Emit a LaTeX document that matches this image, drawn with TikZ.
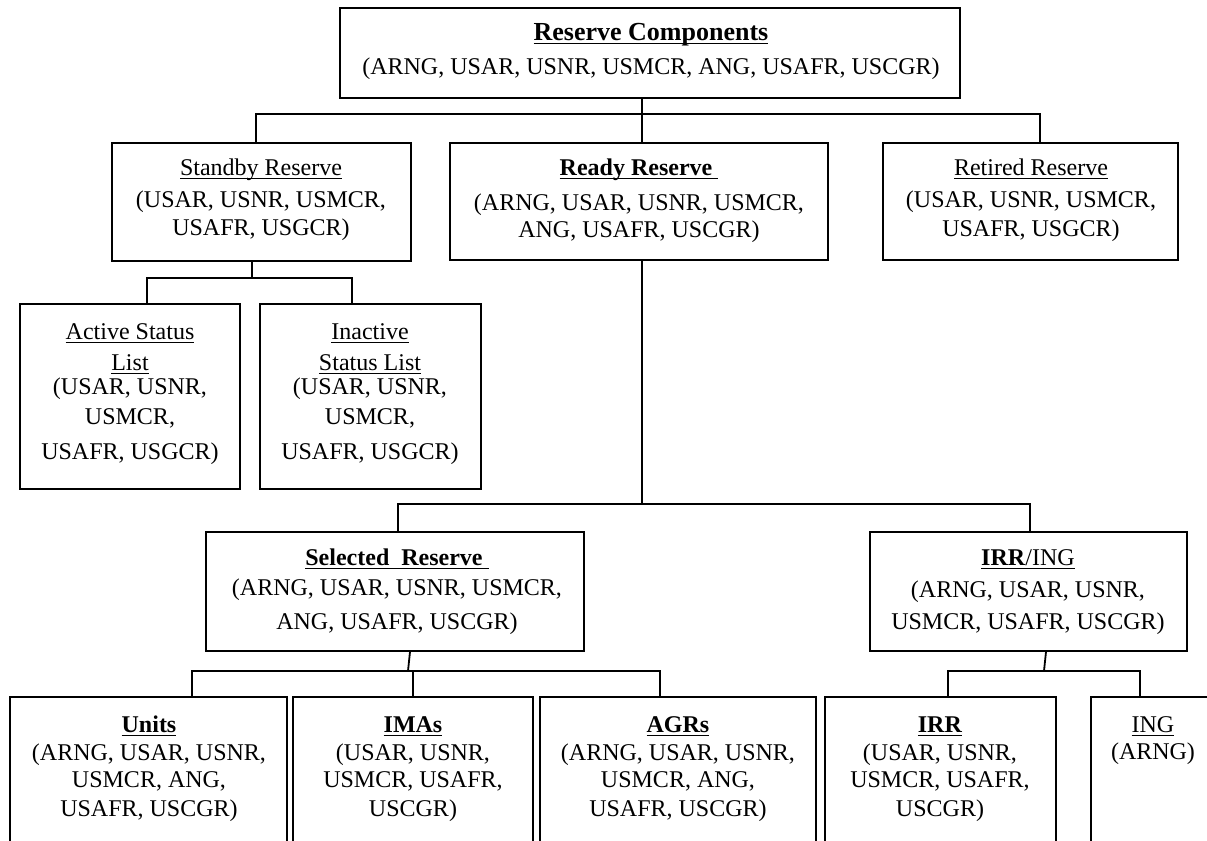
\documentclass[tikz,border=0pt]{standalone}
\usepackage{fontspec}
\setmainfont{Liberation Serif}
\usetikzlibrary{fit,calc}
\newcommand\ulx[1]{\setbox0=\hbox{#1}\rlap{\rule[-1.5pt]{\wd0}{0.6pt}}\box0}
\begin{document}
\begin{tikzpicture}[x=0.5pt,y=-0.5pt,
  box/.style={draw, line width=0.9pt, inner sep=0pt},
  ln/.style={inner sep=0pt, text height=7.9pt, text depth=0pt, font=\fontsize{12}{14}\selectfont},
  con/.style={line width=0.9pt}]
\clip (0,0) rectangle (1207,841);
\fill[white] (0,0) rectangle (1207,841);
% boxes
\node[box, fit={(340,8) (960,98)}] (rc) {};
\node[box, fit={(112,143) (411,261)}] (sb) {};
\node[box, fit={(450,143) (828,260)}] (rr) {};
\node[box, fit={(883,143) (1178,260)}] (rt) {};
\node[box, fit={(20,304) (240,489)}] (as) {};
\node[box, fit={(260,304) (481,489)}] (is) {};
\node[box, fit={(206,532) (584,651)}] (sr) {};
\node[box, fit={(870,532) (1187,651)}] (ii) {};
\node[box, fit={(10,697) (287,900)}] (un) {};
\node[box, fit={(293,697) (533,900)}] (im) {};
\node[box, fit={(540,697) (816,900)}] (ag) {};
\node[box, fit={(825,697) (1056,900)}] (ir) {};
\node[box, fit={(1091,697) (1230,900)}] (ng) {};
% bus coordinates
\coordinate (b1L) at (256,114); \coordinate (b1M) at (642,114); \coordinate (b1R) at (1040,114);
\coordinate (b2L) at (147,278); \coordinate (b2M) at (252,278); \coordinate (b2R) at (352,278);
\coordinate (b3L) at (398,504); \coordinate (b3M) at (642,504); \coordinate (b3R) at (1030,504);
\coordinate (s4) at (410,0);
\coordinate (b4L) at (192,671); \coordinate (b4M) at (408,671); \coordinate (b4R) at (660,671);
\coordinate (s5) at (1046,0);
\coordinate (b5L) at (948,671); \coordinate (b5M) at (1044,671); \coordinate (b5R) at (1140,671);
% connectors
\draw[con] (rc.south -| b1M) -- (b1M);
\draw[con] (sb.north -| b1L) -- (b1L) -- (b1R) -- (rt.north -| b1R);
\draw[con] (b1M) -- (rr.north -| b1M);
\draw[con] (sb.south -| b2M) -- (b2M);
\draw[con] (as.north -| b2L) -- (b2L) -- (b2R) -- (is.north -| b2R);
\draw[con] (rr.south -| b3M) -- (b3M);
\draw[con] (sr.north -| b3L) -- (b3L) -- (b3R) -- (ii.north -| b3R);
\draw[con] (sr.south -| s4) -- (b4M);
\draw[con] (un.north -| b4L) -- (b4L) -- (b4R) -- (ag.north -| b4R);
\draw[con] (im.north) -- (im.north |- b4M);
\draw[con] (ii.south -| s5) -- (b5M);
\draw[con] (ir.north -| b5L) -- (b5L) -- (b5R) -- (ng.north -| b5R);
% texts
\node[ln, font=\fontsize{13}{15}\selectfont] (rc1) at (651,33) {\ulx{\textbf{Reserve Components}}};
\node[ln] (rc2) at (651,67) {(ARNG, USAR, USNR, USMCR, ANG, USAFR, USCGR)};
\node[ln] (sb1) at (261,168) {\ulx{Standby Reserve}};
\node[ln] (sb2) at (261,200) {(USAR, USNR, USMCR,};
\node[ln] (sb3) at (261,228) {USAFR, USGCR)};
\node[ln] (rr1) at (639,168) {\ulx{\textbf{Ready Reserve}\ }};
\node[ln] (rr2) at (639,203) {(ARNG, USAR, USNR, USMCR,};
\node[ln] (rr3) at (639,230) {ANG, USAFR, USCGR)};
\node[ln] (rt1) at (1031,168) {\ulx{Retired Reserve}};
\node[ln] (rt2) at (1031,200) {(USAR, USNR, USMCR,};
\node[ln] (rt3) at (1031,229) {USAFR, USGCR)};
\node[ln] (as1) at (130,332) {\ulx{Active Status}};
\node[ln] (as2) at (130,363) {\ulx{List}};
\node[ln] (as3) at (130,387) {(USAR, USNR,};
\node[ln] (as4) at (130,417) {USMCR,};
\node[ln] (as5) at (130,452) {USAFR, USGCR)};
\node[ln] (is1) at (370,332) {\ulx{Inactive}};
\node[ln] (is2) at (370,363) {\ulx{Status List}};
\node[ln] (is3) at (370,387) {(USAR, USNR,};
\node[ln] (is4) at (370,417) {USMCR,};
\node[ln] (is5) at (370,452) {USAFR, USGCR)};
\node[ln] (sr1) at (397,558) {\ulx{\textbf{Selected\ \ Reserve}\ }};
\node[ln] (sr2) at (397,588) {(ARNG, USAR, USNR, USMCR,};
\node[ln] (sr3) at (397,622) {ANG, USAFR, USCGR)};
\node[ln] (ii1) at (1028,558) {\ulx{\textbf{IRR}/ING}};
\node[ln] (ii2) at (1028,590) {(ARNG, USAR, USNR,};
\node[ln] (ii3) at (1028,622) {USMCR, USAFR, USCGR)};
\node[ln] (un1) at (149,725) {\ulx{\textbf{Units}}};
\node[ln] (un2) at (149,753) {(ARNG, USAR, USNR,};
\node[ln] (un3) at (149,780) {USMCR, ANG,};
\node[ln] (un4) at (149,809) {USAFR, USCGR)};
\node[ln] (im1) at (413,725) {\ulx{\textbf{IMAs}}};
\node[ln] (im2) at (413,753) {(USAR, USNR,};
\node[ln] (im3) at (413,780) {USMCR, USAFR,};
\node[ln] (im4) at (413,809) {USCGR)};
\node[ln] (ag1) at (678,725) {\ulx{\textbf{AGRs}}};
\node[ln] (ag2) at (678,753) {(ARNG, USAR, USNR,};
\node[ln] (ag3) at (678,780) {USMCR, ANG,};
\node[ln] (ag4) at (678,809) {USAFR, USCGR)};
\node[ln] (ir1) at (940,725) {\ulx{\textbf{IRR}}};
\node[ln] (ir2) at (940,753) {(USAR, USNR,};
\node[ln] (ir3) at (940,780) {USMCR, USAFR,};
\node[ln] (ir4) at (940,809) {USCGR)};
\node[ln] (ng1) at (1153,725) {\ulx{ING}};
\node[ln] (ng2) at (1153,752) {(ARNG)};
\end{tikzpicture}
\end{document}
